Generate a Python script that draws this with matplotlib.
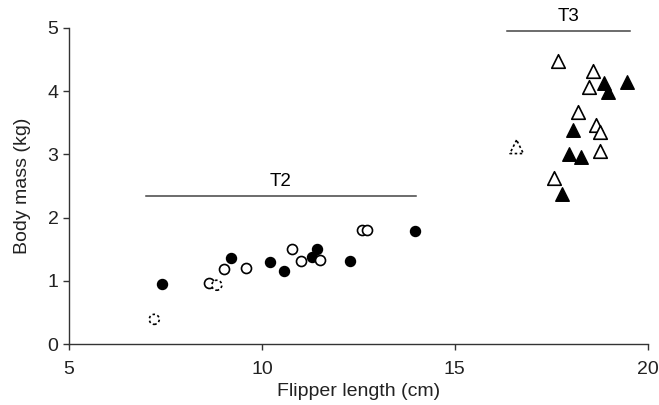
import matplotlib
matplotlib.use("Agg")
from matplotlib import pyplot as plt

plt.rcParams['font.family'] = ['Liberation Sans', 'DejaVu Sans']

# T2 - circles
t2_filled_x = [7.42, 9.21, 10.21, 10.58, 11.29, 11.42, 12.27, 13.97]
t2_filled_y = [0.95, 1.36, 1.29, 1.16, 1.38, 1.51, 1.31, 1.78]
t2_open_x = [8.62, 9.02, 9.60, 10.79, 11.01, 11.50, 12.60, 12.71]
t2_open_y = [0.96, 1.19, 1.21, 1.51, 1.32, 1.33, 1.80, 1.80]
t2_dash_x = [8.83, 7.21]
t2_dash_y = [0.93, 0.39]

# T3 - triangles
t3_open_x = [17.68, 18.58, 18.47, 18.18, 18.65, 18.77, 18.77, 17.58]
t3_open_y = [4.47, 4.32, 4.06, 3.67, 3.47, 3.35, 3.06, 2.62]
t3_filled_x = [18.86, 19.47, 18.96, 18.07, 17.96, 18.28, 17.77]
t3_filled_y = [4.13, 4.15, 3.98, 3.38, 3.01, 2.96, 2.38]
t3_dash_x = [16.60]
t3_dash_y = [3.12]

# group bars
t2_bar = (7.0, 13.99, 2.34)
t3_bar = (16.34, 19.55, 4.95)

fig = plt.figure(figsize=(6.59, 4.05), dpi=100)
ax = fig.add_axes([0.1047, 0.1506, 0.8783, 0.7804])

cs = 52
ts = 95
ax.scatter(t2_filled_x, t2_filled_y, s=cs, c='black', marker='o', zorder=3)
ax.scatter(t2_open_x, t2_open_y, s=cs, facecolors='white', edgecolors='black', linewidths=1.2, marker='o', zorder=3)
ax.scatter(t2_dash_x, t2_dash_y, s=cs, facecolors='white', edgecolors='black', linewidths=1.2, linestyles=(0, (1.5, 1.5)), marker='o', zorder=3)
ax.scatter(t3_open_x, t3_open_y, s=ts, facecolors='white', edgecolors='black', linewidths=1.2, marker='^', zorder=3)
ax.scatter(t3_filled_x, t3_filled_y, s=ts, c='black', marker='^', zorder=4)
ax.scatter(t3_dash_x, t3_dash_y, s=ts, facecolors='white', edgecolors='black', linewidths=1.2, linestyles=(0, (1.5, 1.5)), marker='^', zorder=3)

ax.plot([t2_bar[0], t2_bar[1]], [t2_bar[2], t2_bar[2]], color='#444444', lw=1.1, clip_on=False)
ax.text((t2_bar[0] + t2_bar[1]) / 2, t2_bar[2] + 0.1, 'T2', ha='center', va='bottom', fontsize=13.5)
ax.plot([t3_bar[0], t3_bar[1]], [t3_bar[2], t3_bar[2]], color='#444444', lw=1.1, clip_on=False)
ax.text((t3_bar[0] + t3_bar[1]) / 2, t3_bar[2] + 0.1, 'T3', ha='center', va='bottom', fontsize=13.5)

ax.set_xlim(5, 20)
ax.set_ylim(0, 5)
ax.set_xticks([5, 10, 15, 20])
ax.set_yticks([0, 1, 2, 3, 4, 5])
ax.spines['top'].set_visible(False)
ax.spines['right'].set_visible(False)
for s in ['left', 'bottom']:
    ax.spines[s].set_color('#333333')
    ax.spines[s].set_linewidth(1.0)
ax.tick_params(direction='out', length=4, width=1, colors='#333333', labelsize=14, labelcolor='#222222')
ax.tick_params(axis='x', pad=8)
ax.set_xlabel('Flipper length (cm)', fontsize=14, color='#222222')
ax.set_ylabel('Body mass (kg)', fontsize=14, color='#222222')
ax.xaxis.set_label_coords(0.5, -0.123)
ax.yaxis.set_label_coords(-0.066, 0.5)

fig.savefig('out.png', dpi=100)
